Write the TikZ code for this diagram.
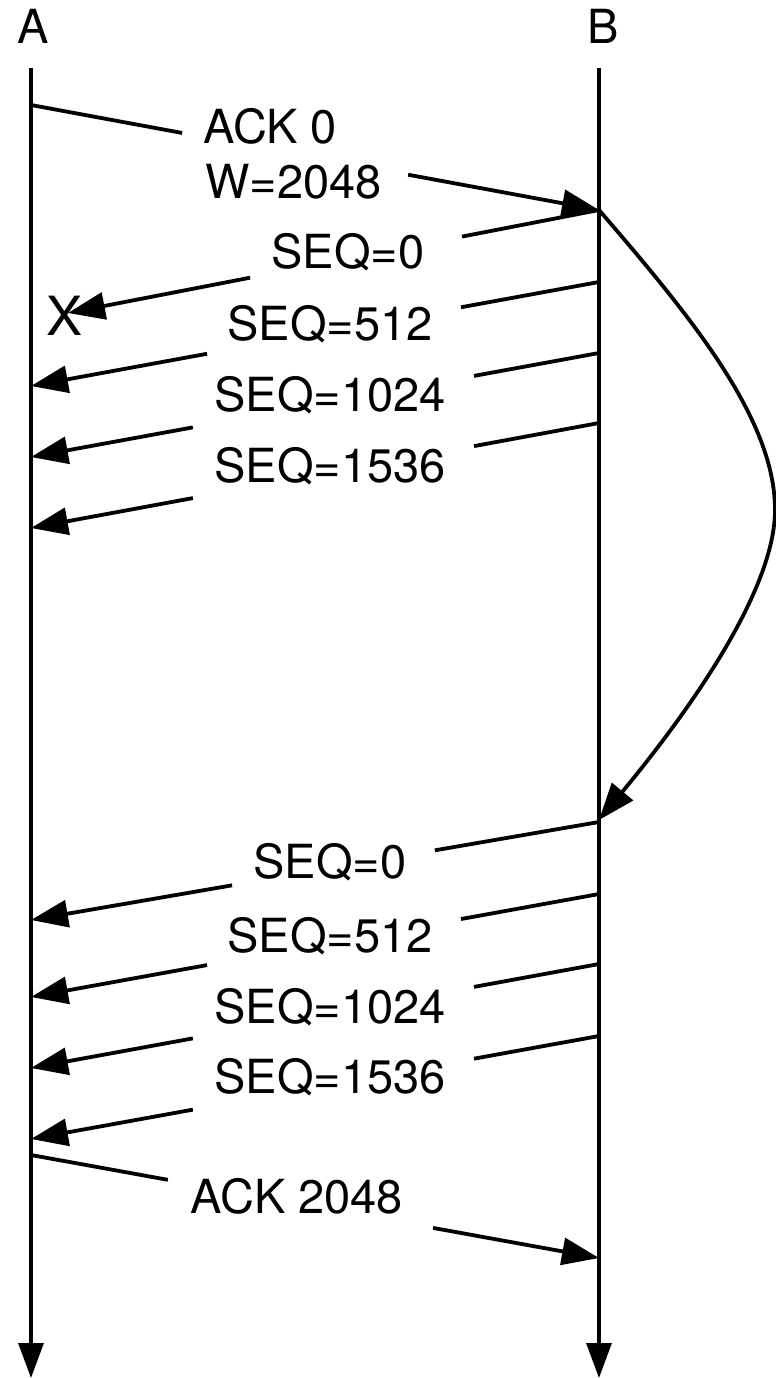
\documentclass[tikz,border=0pt]{standalone}
\usepackage{fontspec}
\setmainfont{TeX Gyre Heros}
\usetikzlibrary{arrows.meta,calc}
\tikzset{
  life/.style={line width=1.6pt,-{Triangle[length=17.5pt,width=12.5pt]}},
  msg/.style={line width=1.9pt},
  msgarr/.style={line width=1.9pt,-{Triangle[length=18.5pt,width=13.5pt]}},
  lbl/.style={font=\fontsize{23.5}{28}\selectfont,inner sep=0pt,anchor=base},
}
\begin{document}
\begin{tikzpicture}[x=0.5pt,y=-0.5pt]
\useasboundingbox (0,0) rectangle (776,1378);
% lifelines
\coordinate (Atop) at (31,68);
\coordinate (Abot) at (31,1378);
\coordinate (Btop) at (599,68);
\coordinate (Bbot) at (599,1378);
\node[lbl] (Alab) at (33,43) {A};
\node[lbl] (Blab) at (603,43) {B};
\draw[life] (Atop) -- (Abot);
\draw[life] (Btop) -- (Bbot);
% ACK 0 / W=2048
\coordinate (m1s) at (31,105);
\coordinate (m1e) at (599,210);
\node[lbl,anchor=base west] (ack0) at (203,143) {ACK 0};
\node[lbl,anchor=base west] (win) at (205,198) {W=2048};
\draw[msg] (m1s) -- ($(m1s)!0.266!(m1e)$);
\draw[msgarr] ($(m1s)!0.664!(m1e)$) -- (m1e);
% lost SEQ=0
\coordinate (m2s) at (599,210);
\node[font=\fontsize{27}{30}\selectfont,inner sep=0pt] (lost) at (65,316) {X};
\coordinate (m2e) at (68,313);
\node[lbl] (seq0a) at (348,268) {SEQ=0};
\draw[msg] (m2s) -- ($(m2s)!0.258!(m2e)$);
\draw[msgarr] ($(m2s)!0.657!(m2e)$) -- (m2e);
% SEQ=512
\coordinate (m3s) at (599,282);
\coordinate (m3e) at (31,386);
\node[lbl] (seq512a) at (330,340) {SEQ=512};
\draw[msg] (m3s) -- ($(m3s)!0.243!(m3e)$);
\draw[msgarr] ($(m3s)!0.690!(m3e)$) -- (m3e);
% SEQ=1024
\coordinate (m4s) at (599,353);
\coordinate (m4e) at (31,457);
\node[lbl] (seq1024a) at (330,411) {SEQ=1024};
\draw[msg] (m4s) -- ($(m4s)!0.220!(m4e)$);
\draw[msgarr] ($(m4s)!0.715!(m4e)$) -- (m4e);
% SEQ=1536
\coordinate (m5s) at (599,423);
\coordinate (m5e) at (31,528);
\node[lbl] (seq1536a) at (330,482) {SEQ=1536};
\draw[msg] (m5s) -- ($(m5s)!0.220!(m5e)$);
\draw[msgarr] ($(m5s)!0.715!(m5e)$) -- (m5e);
% timeout curve
\coordinate (toS) at (599,210);
\coordinate (toM) at (775,510);
\coordinate (toE) at (599,820);
\draw[msgarr] (toS) .. controls (694,320) and (775,420) .. (toM)
  .. controls (775,590) and (690,710) .. (toE);
% second round
\coordinate (n1s) at (599,822);
\coordinate (n1e) at (31,920);
\node[lbl] (seq0b) at (330,878) {SEQ=0};
\draw[msg] (n1s) -- ($(n1s)!0.289!(n1e)$);
\draw[msgarr] ($(n1s)!0.646!(n1e)$) -- (n1e);
\coordinate (n2s) at (599,894);
\coordinate (n2e) at (31,997);
\node[lbl] (seq512b) at (330,952) {SEQ=512};
\draw[msg] (n2s) -- ($(n2s)!0.243!(n2e)$);
\draw[msgarr] ($(n2s)!0.690!(n2e)$) -- (n2e);
\coordinate (n3s) at (599,964);
\coordinate (n3e) at (31,1068);
\node[lbl] (seq1024b) at (330,1023) {SEQ=1024};
\draw[msg] (n3s) -- ($(n3s)!0.220!(n3e)$);
\draw[msgarr] ($(n3s)!0.715!(n3e)$) -- (n3e);
\coordinate (n4s) at (599,1036);
\coordinate (n4e) at (31,1139);
\node[lbl] (seq1536b) at (330,1093) {SEQ=1536};
\draw[msg] (n4s) -- ($(n4s)!0.220!(n4e)$);
\draw[msgarr] ($(n4s)!0.715!(n4e)$) -- (n4e);
% ACK 2048
\coordinate (k1s) at (31,1155);
\coordinate (k1e) at (599,1258);
\node[lbl] (ack2048) at (297,1213) {ACK 2048};
\draw[msg] (k1s) -- ($(k1s)!0.241!(k1e)$);
\draw[msgarr] ($(k1s)!0.708!(k1e)$) -- (k1e);
\end{tikzpicture}
\end{document}
